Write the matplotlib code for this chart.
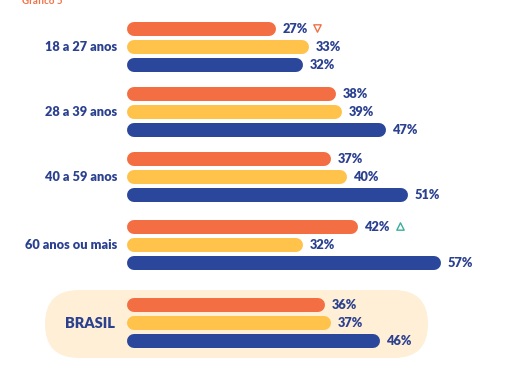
import matplotlib
matplotlib.use("Agg")
import matplotlib.pyplot as plt
from matplotlib.patches import FancyBboxPatch

categories = ["18 a 27 anos", "28 a 39 anos", "40 a 59 anos", "60 anos ou mais", "BRASIL"]
serie_laranja = [27, 38, 37, 42, 36]
serie_amarela = [33, 39, 40, 32, 37]
serie_azul = [32, 47, 51, 57, 46]
markers = {0: ("v", "#F26F44"), 3: ("^", "#3AAE9C")}

colors = ["#F36F43", "#FFC24B", "#2A479C"]
text_color = "#2B4190"

W, H, DPI = 521, 388, 100
fig = plt.figure(figsize=(W / DPI, H / DPI), dpi=DPI)
ax = fig.add_axes([0, 0, 1, 1])
ax.patch.set_visible(False)
px_per_pct = 5.5
x0 = 127
ax.set_xlim(-x0 / px_per_pct, (W - x0) / px_per_pct)
ax.set_ylim(H, 0)
ax.axis("off")

# layout (pixel y of middle bar per group)
centers = [47, 112, 177, 245, 323]
step = 17.8
bar_px = 14
r = (bar_px / 2) / px_per_pct  # cap radius in data units
lw = bar_px * 72 / DPI

# Brasil background pill (display coords)
top, bot, left, right = 290, 358, 45, 428
h = bot - top
pill = FancyBboxPatch((left + h / 2, H - bot + h / 2), right - left - h, 0,
                      boxstyle=f"round,pad={h/2},rounding_size={h/2}", transform=None,
                      facecolor="#FEEFD6", edgecolor="none", zorder=-5)
fig.patches.append(pill)

for i, cat in enumerate(categories):
    vals = [serie_laranja[i], serie_amarela[i], serie_azul[i]]
    for k, v in enumerate(vals):
        y = centers[i] + (k - 1) * step
        ax.plot([r, v - r], [y, y], color=colors[k], lw=lw,
                solid_capstyle="round", zorder=2)
        ax.text(v + 1.3, y, f"{v}%", ha="left", va="center",
                fontsize=9.2, fontweight="heavy", color=text_color,
                family="Lato", zorder=3)
        if k == 0 and i in markers:
            m, c = markers[i]
            ax.scatter([v + 7.6], [y - 1.5], marker=m, s=28, facecolors="white",
                       edgecolors=c, linewidths=1.0, zorder=3)
    if cat == "BRASIL":
        ax.text(-2.2, centers[i], cat, ha="right", va="center", fontsize=10.5,
                fontweight="heavy", color=text_color, family="Lato")
    else:
        ax.text(-1.8, centers[i], cat, ha="right", va="center", fontsize=9.2,
                fontweight="heavy", color=text_color, family="Lato")

fig.text(22 / W, 1 - 1 / H, "Gráfico 5", ha="left", va="center",
         fontsize=7, color="#F36F43", family="Lato", fontweight="bold")

fig.savefig("out.png", dpi=DPI)
